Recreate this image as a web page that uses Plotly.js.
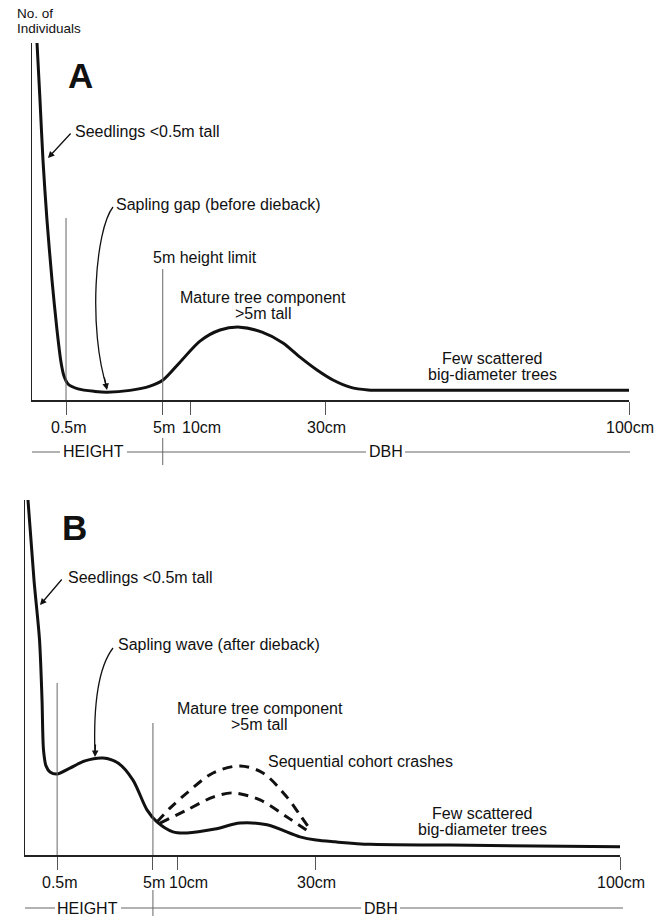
<!DOCTYPE html>
<html><head><meta charset="utf-8">
<script src="https://cdn.plot.ly/plotly-3.0.1.min.js"></script>
<style>html,body{margin:0;padding:0;background:#fff}</style>
</head><body><div id="chart" style="width:670px;height:916px"></div>
<script>
// ---------- data (schematic axis units: x 0..100 along the size axis, y 0..100 = No. of individuals) ----------
const TICK_LABELS = ['0.5m', '5m', '10cm', '30cm', '100cm'];
const TICK_POS_A = [5.7, 21.9, 26.5, 49.2, 100];
const TICK_POS_B = [5.4, 21.5, 25.7, 48.9, 100];

// Panel A: "before dieback"
const A_X = [0.84, 1.34, 1.84, 2.51, 3.35, 4.19, 4.86, 5.36, 6.03, 7.71, 10.55, 12.56, 16.42, 19.77, 21.94, 24.79, 28.14, 31.49, 34.84, 38.53, 42.04, 44.89, 47.74, 50.42, 53.27, 56.28, 61.6, 100];
const A_Y = [100, 84.0, 67.2, 50.4, 33.6, 19.6, 10.6, 6.7, 4.5, 3.1, 2.4, 2.2, 2.7, 3.9, 5.6, 10.6, 16.5, 19.6, 20.4, 19.0, 16.0, 12.0, 8.4, 5.6, 3.6, 2.8, 2.7, 2.7];

// Panel B: "after dieback"
const B_X = [0.5, 1.51, 2.44, 2.86, 3.11, 3.53, 4.2, 5.38, 7.56, 10.08, 13.11, 15.63, 18.15, 20.5, 22.18, 24.87, 27.23, 31.93, 36.13, 40.67, 46.22, 48.91, 52.1, 57.98, 71.4, 100];
const B_Y = [100, 77.5, 60.6, 43.7, 29.6, 25.1, 23.4, 22.8, 24.5, 26.5, 27.3, 25.9, 21.1, 12.7, 9.3, 6.5, 6.2, 7.3, 9.0, 8.5, 5.1, 4.2, 3.7, 3.0, 2.8, 2.3];

// Sequential cohort crashes (dashed)
const CRASH1_X = [22.18, 24.37, 27.23, 31.6, 36.13, 40.0, 44.03, 46.2, 48.2];
const CRASH1_Y = [9.3, 13.2, 17.5, 23.1, 25.1, 23.1, 16.3, 11.3, 6.6];
const CRASH2_X = [22.7, 27.23, 31.6, 34.96, 39.5, 44.03, 48.2];
const CRASH2_Y = [9.0, 12.7, 16.3, 17.5, 15.5, 10.7, 6.0];

// ---------- layout helpers ----------
const W = 670, H = 916;
const px = v => v / W;
const py = v => 1 - v / H;
const FONT = 'Liberation Sans, Arial, Helvetica, sans-serif';
const INK = '#111';
const A_BOX = {l: 32, r: 629, t: 43, b: 400};
const B_BOX = {l: 25, r: 620, t: 500, b: 855};

function txt(text, x, y, anchor, size, extra) {
  return Object.assign({
    text: text, xref: 'paper', yref: 'paper', x: px(x), y: py(y),
    xanchor: anchor || 'left', yanchor: 'middle', showarrow: false, borderpad: 0,
    font: {family: FONT, size: size || 16, color: INK}
  }, extra || {});
}
function arrow(hx, hy, ax, ay) {
  return {text: '', xref: 'paper', yref: 'paper', x: px(hx), y: py(hy), ax: ax, ay: ay,
    showarrow: true, arrowhead: 2, arrowsize: 1, arrowwidth: 1.3, arrowcolor: INK, standoff: 0};
}
function hline(x0, x1, y) {
  return {type: 'line', xref: 'paper', yref: 'paper', x0: px(x0), x1: px(x1), y0: py(y), y1: py(y),
    line: {color: '#666', width: 1}};
}
function vline(xref, xv, y0, y1) {
  return {type: 'line', xref: xref, yref: 'paper', x0: xv, x1: xv, y0: py(y0), y1: py(y1),
    line: {color: '#666', width: 1}};
}
function curve(pts) {
  const f = p => px(p[0]) + ',' + py(p[1]);
  return {type: 'path', xref: 'paper', yref: 'paper',
    path: 'M' + f(pts[0]) + ' C' + f(pts[1]) + ' ' + f(pts[2]) + ' ' + f(pts[3]),
    line: {color: INK, width: 1.3}};
}
// tick labels placed under the axis ticks (the "10cm" label sits right of its tick in the original)
function tickLabels(xref, positions, yPix) {
  return TICK_LABELS.map((t, i) => ({
    text: t, xref: xref, yref: 'paper', x: positions[i], y: py(yPix),
    xanchor: 'center', yanchor: 'middle', showarrow: false, borderpad: 0,
    xshift: t === '10cm' ? 11 : (t === '0.5m' ? 3 : 1),
    font: {family: FONT, size: 16, color: INK}
  }));
}

function xaxisFor(box, ticks) {
  return {
    domain: [px(box.l), px(box.r)], range: [0, 100], fixedrange: true,
    showline: true, linecolor: '#222', linewidth: 1.5, mirror: false,
    showgrid: false, zeroline: false,
    ticks: 'outside', ticklen: 13, tickwidth: 1, tickcolor: '#555',
    tickmode: 'array', tickvals: ticks, ticktext: TICK_LABELS, showticklabels: false
  };
}
function yaxisFor(box) {
  return {
    domain: [py(box.b), py(box.t)], range: [0, 100], fixedrange: true,
    showline: true, linecolor: '#222', linewidth: 1.5,
    showgrid: false, zeroline: false, ticks: '', showticklabels: false
  };
}

const traces = [
  {x: A_X, y: A_Y, xaxis: 'x', yaxis: 'y', mode: 'lines', line: {color: INK, width: 3, shape: 'spline', smoothing: 0.8}, hoverinfo: 'skip'},
  {x: B_X, y: B_Y, xaxis: 'x2', yaxis: 'y2', mode: 'lines', line: {color: INK, width: 3, shape: 'spline', smoothing: 0.8}, hoverinfo: 'skip'},
  {x: CRASH1_X, y: CRASH1_Y, xaxis: 'x2', yaxis: 'y2', mode: 'lines', line: {color: INK, width: 3, shape: 'spline', smoothing: 0.9, dash: '10px,7px'}, hoverinfo: 'skip'},
  {x: CRASH2_X, y: CRASH2_Y, xaxis: 'x2', yaxis: 'y2', mode: 'lines', line: {color: INK, width: 3, shape: 'spline', smoothing: 0.9, dash: '10px,7px'}, hoverinfo: 'skip'}
];

const shapes = [
  // Panel A reference lines
  vline('x', TICK_POS_A[0], 218, 400),
  vline('x', TICK_POS_A[1], 269, 400),
  vline('x', TICK_POS_A[1], 438, 465),
  hline(32, 60, 452), hline(127, 366, 452), hline(405, 630, 452),
  curve([[113, 207], [95, 230], [88, 330], [107, 388]]),
  // Panel B reference lines
  vline('x2', TICK_POS_B[0], 683, 855),
  vline('x2', TICK_POS_B[1], 723, 855),
  vline('x2', TICK_POS_B[1], 890, 916),
  hline(25, 55, 908), hline(121, 361, 908), hline(400, 623, 908),
  curve([[113, 648], [100, 665], [93, 700], [95, 755]])
];

const annotations = [
  // Panel A
  txt('No. of', 16, 13.5, 'left', 13.5),
  txt('Individuals', 16, 28.5, 'left', 13.5),
  txt('<b>A</b>', 80.5, 75.5, 'center', 35),
  txt('Seedlings <0.5m tall', 74, 131, 'left', 16),
  arrow(48, 158, 24, -26),
  txt('Sapling gap (before dieback)', 115, 205, 'left', 16),
  arrow(107, 390, -3, -14),
  txt('5m height limit', 205.5, 258, 'center', 16),
  txt('Mature tree component', 262.5, 297, 'center', 16),
  txt('>5m tall', 262.5, 313, 'center', 16),
  txt('Few scattered', 492, 358, 'center', 16),
  txt('big-diameter trees', 492, 374, 'center', 16),
  txt('HEIGHT', 93.5, 452, 'center', 16),
  txt('DBH', 385.5, 452, 'center', 16),
  // Panel B
  txt('<b>B</b>', 74.5, 527.5, 'center', 35),
  txt('Seedlings <0.5m tall', 67, 577.5, 'left', 16),
  arrow(40, 605, 23, -27),
  txt('Sapling wave (after dieback)', 117, 644.5, 'left', 16),
  arrow(95, 757, 0.5, -14),
  txt('Mature tree component', 259.5, 708, 'center', 16),
  txt('>5m tall', 258.5, 724, 'center', 16),
  txt('Sequential cohort crashes', 267, 761.5, 'left', 16),
  txt('Few scattered', 482, 813, 'center', 16),
  txt('big-diameter trees', 482, 829, 'center', 16),
  txt('HEIGHT', 87.5, 908, 'center', 16),
  txt('DBH', 380.5, 908, 'center', 16)
].concat(tickLabels('x', TICK_POS_A, 427), tickLabels('x2', TICK_POS_B, 882));

const layout = {
  width: W, height: H,
  margin: {l: 0, r: 0, t: 0, b: 0, pad: 0},
  paper_bgcolor: '#fff', plot_bgcolor: '#fff',
  showlegend: false,
  font: {family: FONT, color: INK},
  xaxis: Object.assign(xaxisFor(A_BOX, TICK_POS_A), {anchor: 'y'}),
  yaxis: Object.assign(yaxisFor(A_BOX), {anchor: 'x'}),
  xaxis2: Object.assign(xaxisFor(B_BOX, TICK_POS_B), {anchor: 'y2'}),
  yaxis2: Object.assign(yaxisFor(B_BOX), {anchor: 'x2'}),
  shapes: shapes,
  annotations: annotations
};

Plotly.newPlot('chart', traces, layout, {displayModeBar: false, staticPlot: true});
</script>
</body></html>
